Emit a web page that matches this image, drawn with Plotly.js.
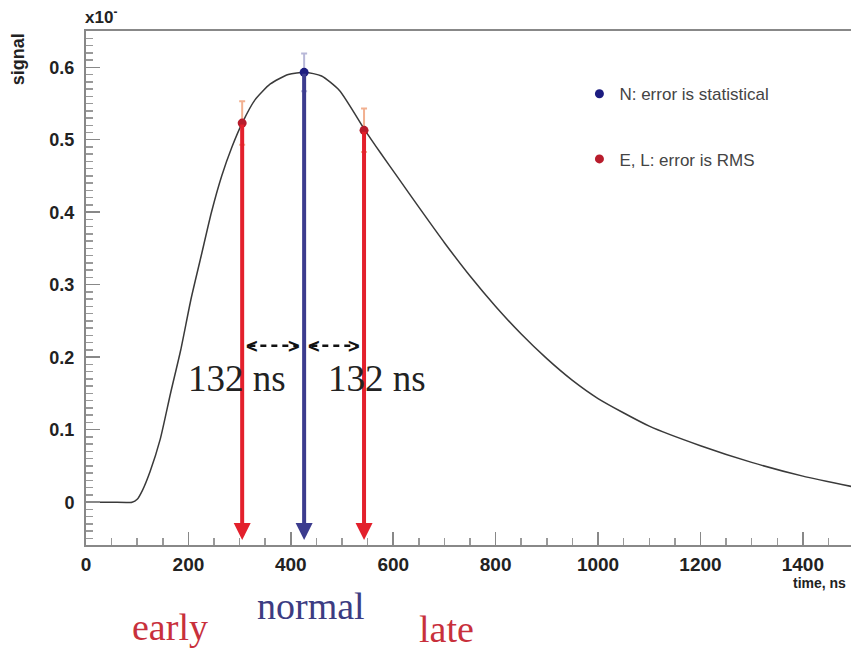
<!DOCTYPE html>
<html>
<head>
<meta charset="utf-8">
<script src="https://cdn.plot.ly/plotly-3.0.1.min.js"></script>
<style>html,body{margin:0;padding:0;background:#fff;}#chart{width:851px;height:651px;}</style>
</head>
<body>
<div id="chart"></div>
<script>
// Pulse shape (signal vs time)
const time_ns = [0, 50, 90, 100, 110, 125, 145, 165, 185, 205, 225, 245, 265, 285, 305, 330, 360, 395, 428, 460, 495, 545, 575, 610, 650, 700, 750, 800, 850, 900, 950, 1000, 1100, 1200, 1300, 1400, 1500];
const signal  = [0, 0, 0, 0.004, 0.016, 0.042, 0.087, 0.15, 0.21, 0.28, 0.34, 0.40, 0.45, 0.49, 0.523, 0.555, 0.577, 0.59, 0.593, 0.588, 0.568, 0.513, 0.482, 0.447, 0.407, 0.358, 0.312, 0.27, 0.232, 0.198, 0.168, 0.143, 0.105, 0.078, 0.055, 0.036, 0.021];

// Sampling points
const point_labels = ['early', 'normal', 'late'];
const point_time   = [305, 426, 543];
const point_signal = [0.523, 0.593, 0.513];
const point_err    = [0.03, 0.026, 0.03];

const legend_labels = ['N: error is statistical', 'E, L: error is RMS'];
const sep_label = '132 ns';

const RED = '#e3202c', BLUE = '#3c3c8e';
const arrowTipY = -0.052;
const dashY = 0.216;

const traces = [
  {x: time_ns, y: signal, mode: 'lines', line: {color: '#3a3a3a', width: 1.5, shape: 'spline', smoothing: 0.6}, showlegend: false, hoverinfo: 'skip'},
  {x: [point_time[1]], y: [point_signal[1]], mode: 'markers', name: legend_labels[0], legendgroup: 'n',
   marker: {color: '#1c1c80', size: 9},
   error_y: {type: 'data', array: [point_err[1]], color: '#b8b8d8', thickness: 2, width: 3}},
  {x: [point_time[0], point_time[2]], y: [point_signal[0], point_signal[2]], mode: 'markers', name: legend_labels[1], legendgroup: 'el',
   marker: {color: '#b81c2c', size: 9},
   error_y: {type: 'data', array: [point_err[0], point_err[2]], color: '#f2b090', thickness: 2, width: 3}}
];

const annotations = [];
const shapes = [];
// vertical arrows from each point down to the axis
point_time.forEach((t, i) => {
  annotations.push({x: t, y: arrowTipY, xref: 'x', yref: 'y', ax: t, ay: point_signal[i], axref: 'x', ayref: 'y',
    text: '', showarrow: true, arrowhead: 2, arrowsize: 0.85, arrowwidth: 4, arrowcolor: i === 1 ? BLUE : RED,
    standoff: 0, startstandoff: 0});
});
// dashed double arrows between points
[[point_time[0], point_time[1]], [point_time[1], point_time[2]]].forEach(([a, b]) => {
  shapes.push({type: 'line', xref: 'x', yref: 'y', x0: a + 14, x1: b - 14, y0: dashY, y1: dashY,
    line: {color: '#111', width: 2.5, dash: '6px,5px'}});
  annotations.push({x: a + 4, y: dashY, xref: 'x', yref: 'y', text: '<b>&lt;</b>', showarrow: false, xanchor: 'left', yanchor: 'middle',
    font: {family: 'Liberation Sans', size: 20, color: '#111'}});
  annotations.push({x: b - 4, y: dashY, xref: 'x', yref: 'y', text: '<b>&gt;</b>', showarrow: false, xanchor: 'right', yanchor: 'middle',
    font: {family: 'Liberation Sans', size: 20, color: '#111'}});
});
// "132 ns" labels
[295, 568].forEach(x => annotations.push({x: x, y: 0.171, xref: 'x', yref: 'y', text: sep_label, showarrow: false,
  xanchor: 'center', yanchor: 'middle',
  font: {family: 'Liberation Serif', size: 37, color: '#222'}}));
// early / normal / late labels under the axis
const labelX = [165, 439, 704];
const labelY = [-0.16, -0.118, -0.163];
const labelColors = ['#c8303c', '#3c3c82', '#c8303c'];
point_labels.forEach((s, i) => annotations.push({x: labelX[i], y: labelY[i], xref: 'x', yref: 'paper', text: s, showarrow: false,
  xanchor: 'center', yanchor: 'middle',
  font: {family: 'Liberation Serif', size: 38, color: labelColors[i]}}));
// axis titles, ROOT style
annotations.push({x: -0.089, y: 0.945, xref: 'paper', yref: 'paper', text: '<b>signal</b>', textangle: -90, showarrow: false,
  xanchor: 'center', yanchor: 'middle',
  font: {family: 'Liberation Sans', size: 18, color: '#222'}});
annotations.push({x: -0.004, y: 1.03, xref: 'paper', yref: 'paper', text: '<b>x10<sup>-</sup></b>', xanchor: 'left', yanchor: 'middle', showarrow: false,
  font: {family: 'Liberation Sans', size: 17, color: '#222'}});
annotations.push({x: 0.996, y: -0.074, xref: 'paper', yref: 'paper', text: '<b>time, ns</b>', xanchor: 'right', yanchor: 'middle', showarrow: false,
  font: {family: 'Liberation Sans', size: 14, color: '#222'}});

const layout = {
  width: 851, height: 651,
  margin: {l: 86, r: 0, t: 31, b: 106},
  paper_bgcolor: '#fff', plot_bgcolor: '#fff',
  showlegend: true,
  legend: {x: 0.645, y: 0.912, xanchor: 'left', yanchor: 'top', bgcolor: 'rgba(0,0,0,0)', tracegroupgap: 40,
    font: {family: 'Liberation Sans', size: 17, color: '#444'}},
  xaxis: {range: [0, 1494], tick0: 0, dtick: 200, ticks: 'inside', ticklen: 13, tickwidth: 1.5, tickcolor: '#888',
    minor: {dtick: 50, ticks: 'inside', ticklen: 7, tickcolor: '#999'},
    showline: true, linecolor: '#888', linewidth: 2, mirror: true, showgrid: false, zeroline: false,
    ticklabelstandoff: 1,
    tickfont: {family: 'Liberation Sans', size: 19, color: '#222', weight: 'bold'}},
  yaxis: {range: [-0.059, 0.65], tick0: 0, dtick: 0.1, ticks: 'inside', ticklen: 14, tickwidth: 1.5, tickcolor: '#888',
    minor: {dtick: 0.01, ticks: 'inside', ticklen: 7, tickcolor: '#999'},
    showline: true, linecolor: '#888', linewidth: 2, mirror: true, showgrid: false, zeroline: false,
    ticklabelstandoff: 6,
    tickfont: {family: 'Liberation Sans', size: 18, color: '#222', weight: 'bold'}},
  annotations: annotations,
  shapes: shapes
};

Plotly.newPlot('chart', traces, layout, {staticPlot: true, displayModeBar: false});
</script>
</body>
</html>
